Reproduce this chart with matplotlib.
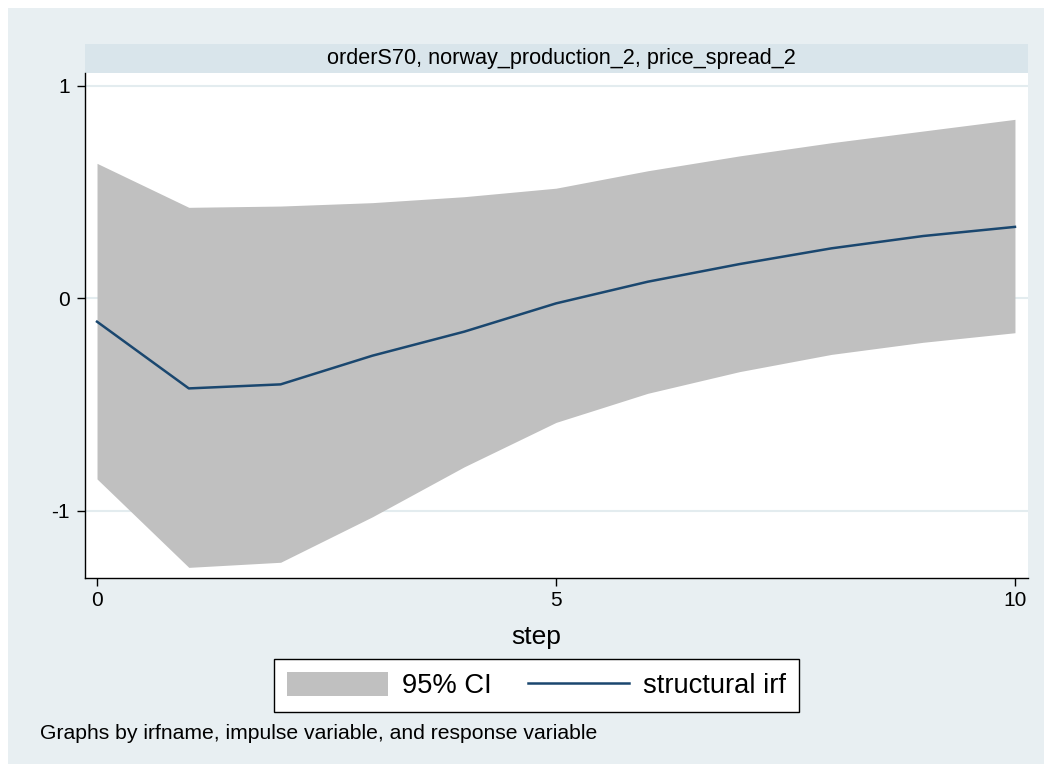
import matplotlib
matplotlib.use("Agg")
import matplotlib.pyplot as plt
from matplotlib.patches import Rectangle, Patch
from matplotlib.lines import Line2D

plt.rcParams["font.family"] = ["Liberation Sans", "DejaVu Sans"]

# impulse response
steps = [0, 1, 2, 3, 4, 5, 6, 7, 8, 9, 10]
irf = [-0.110, -0.424, -0.405, -0.270, -0.157, -0.024, 0.078, 0.161, 0.235, 0.293, 0.336]
ci_upper = [0.635, 0.428, 0.434, 0.450, 0.478, 0.518, 0.600, 0.670, 0.732, 0.787, 0.842]
ci_lower = [-0.850, -1.266, -1.242, -1.028, -0.793, -0.584, -0.447, -0.345, -0.264, -0.207, -0.162]

panel_title = "orderS70, norway_production_2, price_spread_2"
x_ticks = [0, 5, 10]
y_ticks = [-1, 0, 1]
note = "Graphs by irfname, impulse variable, and response variable"

BG = "#E8EFF2"
STRIP = "#D9E5EB"
GRID = "#E3ECEF"
NAVY = "#1A476F"
CI_GRAY = "#C0C0C0"

W, H = 1052, 772
fig = plt.figure(figsize=(W / 100, H / 100), dpi=100)
fig.patch.set_facecolor("white")

# outer graph region
fig.patches.append(Rectangle((8 / W, 8 / H), 1036 / W, 756 / H,
                             transform=fig.transFigure, facecolor=BG,
                             edgecolor="none", zorder=-10))
# title strip above the panel
fig.patches.append(Rectangle((85 / W, 1 - 73 / H), 943 / W, 29 / H,
                             transform=fig.transFigure, facecolor=STRIP,
                             edgecolor="none", zorder=-5))
fig.text(561 / W, 1 - 58.5 / H, panel_title, ha="center", va="center", fontsize=15.6)

ax = fig.add_axes([85 / W, 1 - 578 / H, 943 / W, 505 / H])
ax.set_facecolor("white")

ax.fill_between(steps, ci_lower, ci_upper, color=CI_GRAY, linewidth=0, zorder=2)
ax.plot(steps, irf, color=NAVY, linewidth=1.8, zorder=3)

ax.set_xlim(-0.131, 10.142)
ax.set_ylim(-1.316, 1.060)
ax.set_xticks(x_ticks)
ax.set_yticks(y_ticks)
ax.set_yticklabels([str(v) for v in y_ticks])
ax.grid(axis="y", color=GRID, linewidth=1.5, zorder=1)
ax.grid(axis="x", visible=False)
ax.set_axisbelow(True)

for side in ["top", "right"]:
    ax.spines[side].set_visible(False)
for side in ["left", "bottom"]:
    ax.spines[side].set_color("black")
    ax.spines[side].set_linewidth(1.0)

ax.tick_params(axis="both", direction="out", length=5.5, width=1.0, labelsize=15)
ax.tick_params(axis="x", pad=4)
ax.tick_params(axis="y", pad=5.5)

fig.text(536 / W, 1 - 644 / H, "step", ha="center", va="baseline", fontsize=19)

handles = [Patch(facecolor=CI_GRAY, edgecolor="none"),
           Line2D([], [], color=NAVY, linewidth=1.8)]
leg = fig.legend(handles, ["95% CI", "structural irf"], loc="center",
                 bbox_to_anchor=(536.5 / W, 1 - 685.5 / H), ncol=2,
                 fontsize=19.7, frameon=True, fancybox=False, edgecolor="black",
                 facecolor="white", framealpha=1, handlelength=3.69,
                 handleheight=1.02, handletextpad=0.51, columnspacing=1.35,
                 borderpad=0.45, borderaxespad=0)
leg.get_frame().set_linewidth(1.0)

fig.text(40 / W, 1 - 739 / H, note, ha="left", va="baseline", fontsize=15.2)

fig.savefig("out.png", dpi=100, facecolor=fig.get_facecolor())
